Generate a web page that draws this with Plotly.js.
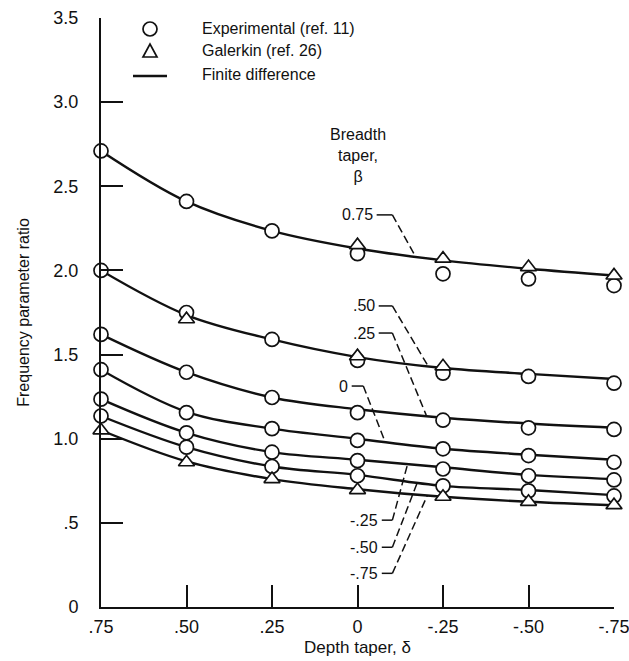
<!DOCTYPE html>
<html>
<head>
<meta charset="utf-8">
<script src="https://cdn.plot.ly/plotly-3.0.1.min.js"></script>
<style>
  html, body { margin: 0; padding: 0; background: #fff; }
  #chart { width: 629px; height: 661px; }
</style>
</head>
<body>
<div id="chart"></div>
<script>
// Depth taper, delta (x axis) at which every curve is evaluated
const depthTaper = [0.75, 0.50, 0.25, 0, -0.25, -0.50, -0.75];

// Finite-difference frequency parameter ratio, one curve per breadth taper beta
const fdBeta075  = [2.71, 2.41, 2.235, 2.13, 2.06, 2.01, 1.97];
const fdBeta050  = [2.00, 1.735, 1.59, 1.485, 1.42, 1.385, 1.355];
const fdBeta025  = [1.62, 1.395, 1.245, 1.175, 1.125, 1.09, 1.065];
const fdBeta000  = [1.41, 1.16, 1.06, 1.00, 0.94, 0.905, 0.875];
const fdBetaM025 = [1.235, 1.035, 0.92, 0.875, 0.83, 0.785, 0.76];
const fdBetaM050 = [1.135, 0.95, 0.835, 0.785, 0.72, 0.695, 0.665];
const fdBetaM075 = [1.05, 0.865, 0.76, 0.70, 0.655, 0.625, 0.605];

// Experimental results (ref. 11)
const expBeta075  = [2.71, 2.41, 2.235, 2.10, 1.98, 1.95, 1.91];
const expBeta050  = [2.00, 1.75, 1.59, 1.465, 1.39, 1.37, 1.33];
const expBeta025  = [1.62, 1.395, 1.245, 1.155, 1.11, 1.065, 1.055];
const expBeta000  = [1.41, 1.155, 1.06, 0.99, 0.94, 0.90, 0.86];
const expBetaM025 = [1.235, 1.035, 0.92, 0.87, 0.82, 0.78, 0.755];
const expBetaM050 = [1.135, 0.95, 0.835, 0.78, 0.72, 0.69, 0.66];

// Galerkin results (ref. 26)
const galDepth075  = [0, -0.25, -0.50, -0.75];
const galBeta075   = [2.15, 2.07, 2.02, 1.97];
const galDepth050  = [0.50, 0, -0.25];
const galBeta050   = [1.71, 1.49, 1.43];
const galDepthM075 = [0.75, 0.50, 0.25, 0, -0.25, -0.50, -0.75];
const galBetaM075  = [1.05, 0.86, 0.76, 0.695, 0.655, 0.625, 0.605];

// Tick labels
const xTickVals = [0.75, 0.50, 0.25, 0, -0.25, -0.50, -0.75];
const xTickText = ['.75', '.50', '.25', '0', '-.25', '-.50', '-.75'];
const yTickVals = [0, 0.5, 1.0, 1.5, 2.0, 2.5, 3.0, 3.5];
const yTickText = ['0', '.5', '1.0', '1.5', '2.0', '2.5', '3.0', '3.5'];

// Curve labels: text, label anchor, leader stub end, leader tip on the curve
const curveLabels = [
  { text: '0.75', lx: -0.052, ly: 2.330, sx: -0.102, tx: -0.169, ty: 2.085 },
  { text: '.50',  lx: -0.058, ly: 1.789, sx: -0.102, tx: -0.204, ty: 1.440 },
  { text: '.25',  lx: -0.058, ly: 1.628, sx: -0.102, tx: -0.201, ty: 1.140 },
  { text: '0',    lx: 0.021,  ly: 1.313, sx: -0.017, tx: -0.081, ty: 0.980 },
  { text: '-.25', lx: -0.067, ly: 0.516, sx: -0.102, tx: -0.146, ty: 0.845 },
  { text: '-.50', lx: -0.067, ly: 0.355, sx: -0.102, tx: -0.175, ty: 0.740 },
  { text: '-.75', lx: -0.067, ly: 0.200, sx: -0.102, tx: -0.204, ty: 0.662 }
];

const FONT = '"Liberation Sans", Arial, sans-serif';
const INK = '#111';

const fdCurves = [fdBeta075, fdBeta050, fdBeta025, fdBeta000, fdBetaM025, fdBetaM050, fdBetaM075];
const expCurves = [expBeta075, expBeta050, expBeta025, expBeta000, expBetaM025, expBetaM050];
const galCurves = [
  [galDepth075, galBeta075],
  [galDepth050, galBeta050],
  [galDepthM075, galBetaM075]
];

const traces = [];
fdCurves.forEach(ys => traces.push({
  x: depthTaper, y: ys, type: 'scatter', mode: 'lines',
  line: { color: INK, width: 2.4, shape: 'spline', smoothing: 1 },
  hoverinfo: 'skip', showlegend: false
}));
expCurves.forEach(ys => traces.push({
  x: depthTaper, y: ys, type: 'scatter', mode: 'markers', cliponaxis: false,
  marker: { symbol: 'circle', size: 14, color: '#fff', line: { color: INK, width: 1.7 } },
  showlegend: false
}));
galCurves.forEach(([xs, ys]) => traces.push({
  x: xs, y: ys, type: 'scatter', mode: 'markers', cliponaxis: false,
  marker: { symbol: 'triangle-up', size: 14, color: '#fff', line: { color: INK, width: 1.7 } },
  showlegend: false
}));

// Plot-area geometry used to place the hand-built legend in paper units
const PLOT_L = 101, PLOT_T = 18, PLOT_W = 513, PLOT_H = 589;
const px = v => (v - PLOT_L) / PLOT_W;
const py = v => (PLOT_T + PLOT_H - v) / PLOT_H;

const shapes = [
  { type: 'circle', xref: 'paper', yref: 'paper', xsizemode: 'pixel', ysizemode: 'pixel',
    xanchor: px(150), yanchor: py(29), x0: -7, x1: 7, y0: -7, y1: 7,
    line: { color: INK, width: 1.7 }, fillcolor: '#fff' },
  { type: 'path', xref: 'paper', yref: 'paper', xsizemode: 'pixel', ysizemode: 'pixel',
    xanchor: px(150), yanchor: py(51), path: 'M-7,-6L7,-6L0,7Z',
    line: { color: INK, width: 1.7 }, fillcolor: '#fff' },
  { type: 'line', xref: 'paper', yref: 'paper',
    x0: px(133), x1: px(167), y0: py(76), y1: py(76),
    line: { color: INK, width: 2.4 } }
];
curveLabels.forEach(c => {
  shapes.push({ type: 'line', xref: 'x', yref: 'y', x0: c.lx - 0.004, x1: c.sx, y0: c.ly, y1: c.ly,
    line: { color: INK, width: 1.5 } });
  shapes.push({ type: 'line', xref: 'x', yref: 'y', x0: c.sx, x1: c.tx, y0: c.ly, y1: c.ty,
    line: { color: INK, width: 1.5, dash: '8px,4px' } });
});

const annotations = [
  { text: 'Experimental (ref. 11)', xref: 'paper', yref: 'paper', x: px(200), y: py(29),
    xanchor: 'left', yanchor: 'middle', showarrow: false },
  { text: 'Galerkin (ref. 26)', xref: 'paper', yref: 'paper', x: px(200), y: py(51),
    xanchor: 'left', yanchor: 'middle', showarrow: false },
  { text: 'Finite difference', xref: 'paper', yref: 'paper', x: px(200), y: py(74),
    xanchor: 'left', yanchor: 'middle', showarrow: false },
  { text: 'Breadth<br>taper,<br>β', xref: 'x', yref: 'y', x: 0.0, y: 2.68,
    xanchor: 'center', yanchor: 'middle', showarrow: false, align: 'center' }
];
curveLabels.forEach(c => annotations.push({
  text: c.text, xref: 'x', yref: 'y', x: c.lx, y: c.ly,
  xanchor: 'right', yanchor: 'middle', showarrow: false
}));

const axisCommon = {
  showgrid: false, zeroline: false, showline: true, linecolor: INK, linewidth: 2,
  ticks: 'inside', ticklen: 22, tickwidth: 2, tickcolor: INK, ticklabeloverflow: 'allow',
  tickmode: 'array', tickfont: { family: FONT, size: 18, color: INK }
};

const layout = {
  width: 629, height: 661,
  margin: { l: PLOT_L, r: 629 - PLOT_L - PLOT_W, t: PLOT_T, b: 661 - PLOT_T - PLOT_H },
  paper_bgcolor: '#fff', plot_bgcolor: '#fff',
  font: { family: FONT, size: 16, color: INK },
  showlegend: false,
  xaxis: Object.assign({}, axisCommon, {
    range: [0.75, -0.75], tickvals: xTickVals, ticktext: xTickText,
    ticklabelstandoff: 2,
    title: { text: 'Depth taper, δ', font: { family: FONT, size: 17, color: INK }, standoff: 6 }
  }),
  yaxis: Object.assign({}, axisCommon, {
    range: [0, 3.5], tickvals: yTickVals, ticktext: yTickText,
    ticklabelstandoff: 17,
    title: { text: 'Frequency parameter ratio', font: { family: FONT, size: 16, color: INK }, standoff: 20 }
  }),
  shapes: shapes,
  annotations: annotations
};

Plotly.newPlot('chart', traces, layout, { staticPlot: true, displayModeBar: false });
</script>
</body>
</html>
